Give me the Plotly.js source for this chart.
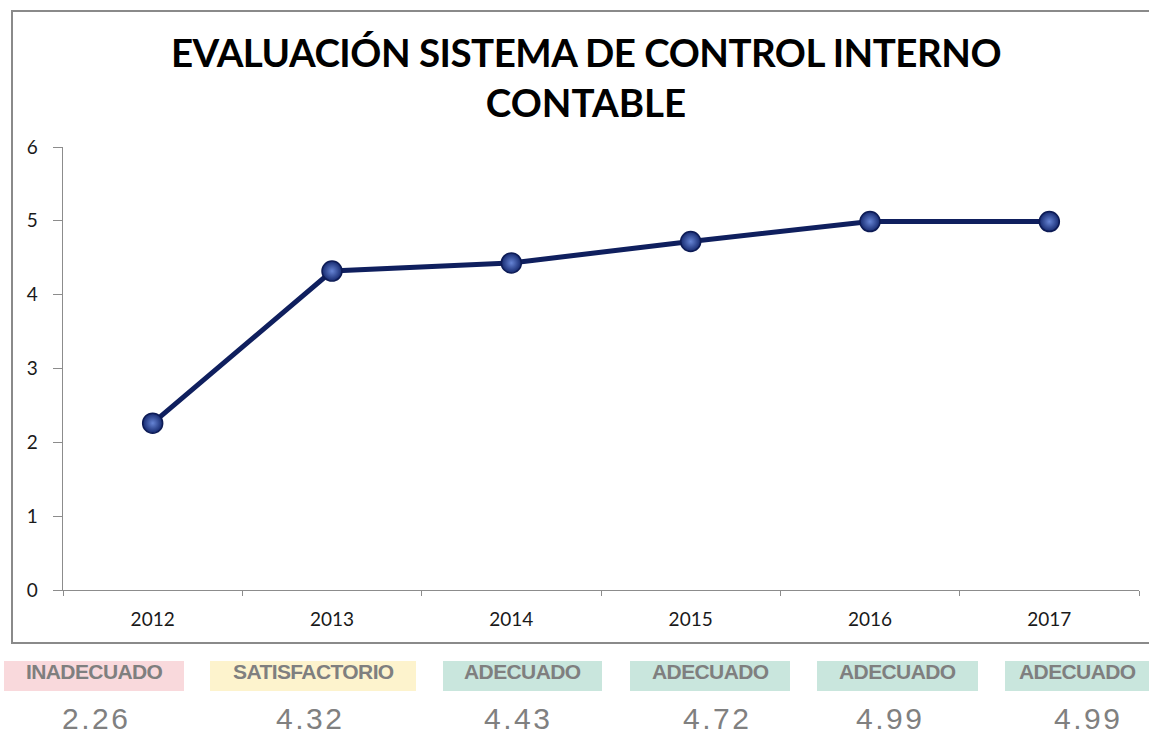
<!DOCTYPE html>
<html>
<head>
<meta charset="utf-8">
<script src="https://cdn.plot.ly/plotly-3.0.1.min.js"></script>
<style>
  html, body { margin: 0; padding: 0; background: #ffffff; }
  #chart { width: 1149px; height: 737px; }
</style>
</head>
<body>
<div id="chart"></div>
<script>
// ---- data ----
const years = ["2012", "2013", "2014", "2015", "2016", "2017"];
const scores = [2.26, 4.32, 4.43, 4.72, 4.99, 4.99];
const statusLabels = ["INADECUADO", "SATISFACTORIO", "ADECUADO", "ADECUADO", "ADECUADO", "ADECUADO"];
const valueLabels = ["2.26", "4.32", "4.43", "4.72", "4.99", "4.99"];
const yTicks = [0, 1, 2, 3, 4, 5, 6];

// ---- layout helpers (pixel -> paper) ----
const W = 1149, H = 737;
const L = 63, R = 10, T = 147, B = 147;
const PW = W - L - R, PH = H - T - B;
const px = x => (x - L) / PW;
const py = y => (H - B - y) / PH;

const statusColors = {
  "INADECUADO": "#f9d9dc",
  "SATISFACTORIO": "#fdf3cd",
  "ADECUADO": "#c9e6dd"
};
// box pixel extents [x0, x1]
const boxSpans = [[4, 184], [210, 416], [443, 602], [630, 790], [817, 978], [1005, 1160]];
const valueCenters = [96, 310, 518, 717, 890, 1088];

const shapes = [];
const annotations = [];

// outer chart border
shapes.push({
  type: "rect", xref: "paper", yref: "paper",
  x0: px(12), x1: px(1160), y0: py(643), y1: py(11),
  line: { color: "#8a8a8a", width: 2 }, fillcolor: "rgba(0,0,0,0)", layer: "below"
});

statusLabels.forEach((lab, i) => {
  const [x0, x1] = boxSpans[i];
  shapes.push({
    type: "rect", xref: "paper", yref: "paper",
    x0: px(x0), x1: px(x1), y0: py(691), y1: py(661),
    line: { width: 0 }, fillcolor: statusColors[lab], layer: "below"
  });
  annotations.push({
    xref: "paper", yref: "paper",
    x: px((x0 + x1) / 2 - (i === 5 ? 5 : 0)), y: py(671),
    xanchor: "center", yanchor: "middle", showarrow: false,
    text: '<span style="letter-spacing:-0.6px">' + lab + '</span>',
    font: { family: "Liberation Sans, Arial, sans-serif", size: 21, color: "#7f7f7f", weight: "bold" }
  });
  annotations.push({
    xref: "paper", yref: "paper",
    x: px(valueCenters[i]), y: py(736),
    xanchor: "center", yanchor: "bottom", showarrow: false,
    borderpad: 0,
    text: '<span style="letter-spacing:2.5px">' + valueLabels[i] + '</span>',
    font: { family: "Liberation Sans, Arial, sans-serif", size: 30, color: "#808080" }
  });
});

const trace = {
  type: "scatter",
  mode: "lines+markers",
  x: years,
  y: scores,
  line: { color: "#0f1f5e", width: 5 },
  marker: {
    size: 20,
    color: "#15296f",
    gradient: { type: "radial", color: "#6684d4" },
    line: { color: "#0d1b55", width: 1.5 }
  },
  hoverinfo: "x+y",
  showlegend: false
};

const layout = {
  width: W, height: H,
  margin: { l: L, r: R, t: T, b: B, pad: 0 },
  paper_bgcolor: "#ffffff",
  plot_bgcolor: "#ffffff",
  title: {
    text: '<b><span style="letter-spacing:-0.5px">EVALUACIÓN SISTEMA DE CONTROL INTERNO</span><br>CONTABLE</b>',
    font: { family: "Lato, Liberation Sans, sans-serif", size: 38.5, color: "#000000" },
    x: 586 / W, xanchor: "center", xref: "container",
    y: 1 - 67 / H, yanchor: "middle", yref: "container"
  },
  xaxis: {
    type: "category",
    range: [-0.5, 5.5],
    showline: true, linecolor: "#8c8c8c", linewidth: 1.3,
    ticks: "outside", tickson: "boundaries", ticklen: 5, tickcolor: "#8c8c8c",
    showgrid: false, zeroline: false,
    tickfont: { family: "Lato, Liberation Sans, sans-serif", size: 19, color: "#1a1a1a" },
    ticklabelstandoff: 12,
    fixedrange: true
  },
  yaxis: {
    range: [0, 6],
    tickvals: yTicks,
    showline: true, linecolor: "#8c8c8c", linewidth: 1.3,
    ticks: "outside", ticklen: 9, tickcolor: "#8c8c8c",
    showgrid: false, zeroline: false,
    tickfont: { family: "Lato, Liberation Sans, sans-serif", size: 19, color: "#1a1a1a" },
    ticklabelstandoff: 11,
    fixedrange: true
  },
  shapes: shapes,
  annotations: annotations
};

Plotly.newPlot("chart", [trace], layout, { displayModeBar: false, staticPlot: true });
</script>
</body>
</html>
